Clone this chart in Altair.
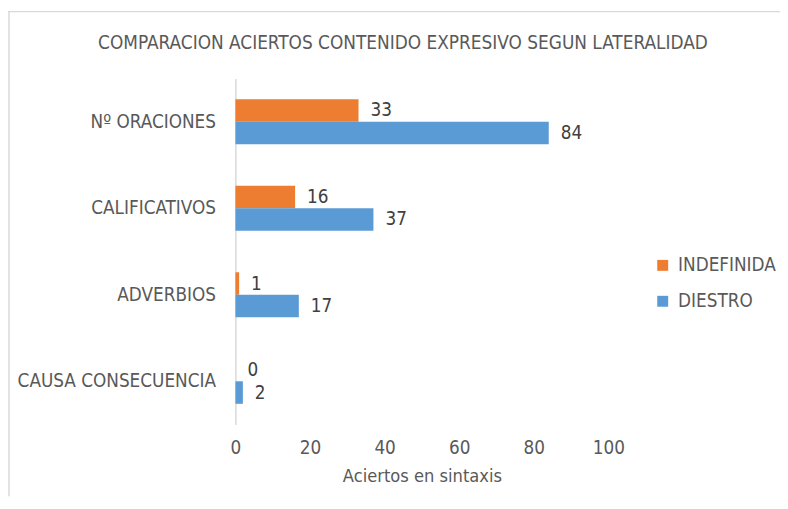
import altair as alt
import pandas as pd

categories = ["Nº ORACIONES", "CALIFICATIVOS", "ADVERBIOS", "CAUSA CONSECUENCIA"]
series = ["INDEFINIDA", "DIESTRO"]
indefinida = [33, 16, 1, 0]
diestro = [84, 37, 17, 2]
x_ticks = [0, 20, 40, 60, 80, 100]
colors = ["#ED7D31", "#5B9BD5"]
title_text = "COMPARACION ACIERTOS CONTENIDO EXPRESIVO SEGUN LATERALIDAD"

rows = []
for c, a, b in zip(categories, indefinida, diestro):
    rows.append({"cat": c, "serie": "INDEFINIDA", "v": a})
    rows.append({"cat": c, "serie": "DIESTRO", "v": b})
df = pd.DataFrame(rows)

W, H = 374, 347
PAD_R = 172
FONT = "DejaVu Sans Condensed, sans-serif"
GREY = "#595959"
FS = 18.8

y = alt.Y("cat:N", sort=categories,
          scale=alt.Scale(paddingInner=0.48, paddingOuter=0.24),
          axis=alt.Axis(title=None, ticks=False, domainColor="#d9d9d9", domainWidth=1.5,
                        labelPadding=20, labelFontSize=FS, labelColor=GREY, labelFont=FONT,
                        labelLimit=0))
x = alt.X("v:Q", scale=alt.Scale(domain=[0, 100], nice=False),
          axis=alt.Axis(values=x_ticks, title="Aciertos en sintaxis", grid=False, domain=False,
                        ticks=False, labelPadding=14, labelFontSize=FS, labelColor=GREY,
                        labelFont=FONT, labelFlush=False, titleFont=FONT, titleFontSize=18.2,
                        titleColor=GREY, titleFontWeight="normal", titlePadding=10))
yoff = alt.YOffset("serie:N", sort=series, scale=alt.Scale(domain=series))
color = alt.Color("serie:N", scale=alt.Scale(domain=series, range=colors),
                  legend=alt.Legend(title=None, orient="none", legendX=419, legendY=178,
                                    symbolType="square", symbolSize=120, symbolStrokeWidth=0,
                                    labelFont=FONT, labelFontSize=FS, labelColor=GREY,
                                    labelLimit=0, rowPadding=16, labelOffset=6))

base = alt.Chart(df)
bars = base.mark_bar().encode(x=x, y=y, yOffset=yoff, color=color)
labels = base.mark_text(align="left", baseline="middle", dx=12, fontSize=FS,
                        font=FONT, color="#404040").encode(
    x=alt.X("v:Q"), y=alt.Y("cat:N", sort=categories), yOffset=yoff, text="v:Q")

title = alt.Chart(pd.DataFrame({"t": [title_text]})).mark_text(
    fontSize=18.9, font=FONT, color=GREY, align="center", baseline="middle").encode(
    text="t:N", x=alt.value(168), y=alt.value(-36))

dummy = pd.DataFrame({"a": [0]})
border_top = alt.Chart(dummy).mark_rule(color="#d9d9d9", strokeWidth=1.5).encode(
    x=alt.value(-228), x2=alt.value(W + PAD_R), y=alt.value(-67))
border_left = alt.Chart(dummy).mark_rule(color="#d9d9d9", strokeWidth=1.5).encode(
    x=alt.value(-227), y=alt.value(-67), y2=alt.value(H + 72))

chart = alt.layer(border_top, border_left, title, bars, labels).properties(
    width=W, height=H,
    autosize=alt.AutoSizeParams(type="none"),
    padding={"left": 228, "top": 70, "right": PAD_R, "bottom": 72},
).configure_view(stroke=None)

chart.save("out.html", embed_options={"renderer": "svg", "actions": False})
